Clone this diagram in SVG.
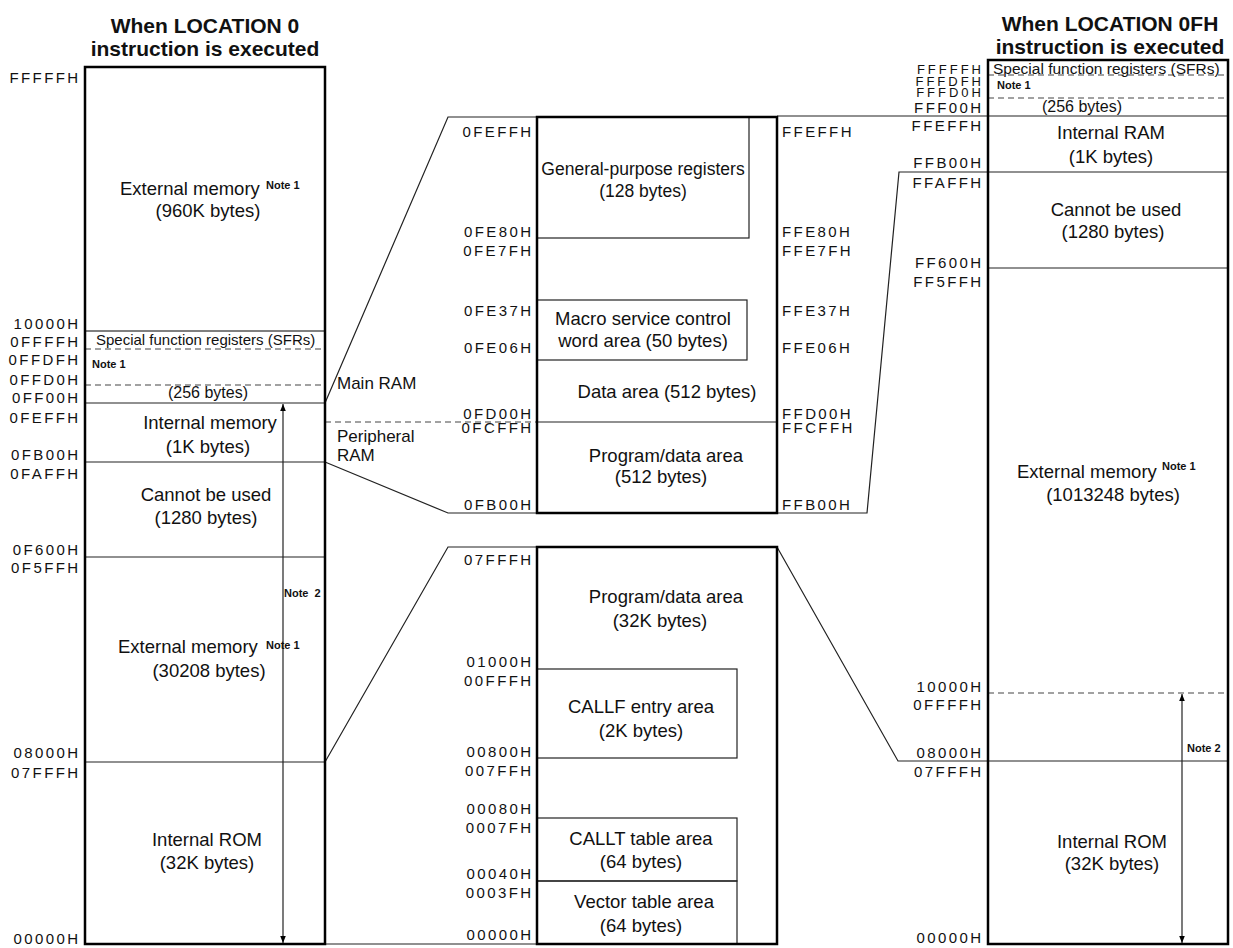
<svg xmlns="http://www.w3.org/2000/svg" width="1233" height="948" viewBox="0 0 1233 948">
<style>
text{font-family:"Liberation Sans",Arial,sans-serif;fill:#111}
.t{font-size:21px;font-weight:bold;text-anchor:middle}
.a{font-size:15px;letter-spacing:2.4px}
.ae{font-size:15px;letter-spacing:2.4px;text-anchor:end}
.at{font-size:13px;letter-spacing:3px;text-anchor:end}
.b{font-size:18.5px;text-anchor:middle}
.bs{font-size:18.5px}
.n{font-size:11px;font-weight:bold}
.s{font-size:15px}
.box{fill:none;stroke:#000;stroke-width:2.5}
.ib{fill:none;stroke:#222;stroke-width:1.2}
.ln{stroke:#222;stroke-width:1.2;fill:none}
.gl{stroke:#555;stroke-width:1.5;fill:none}
.ds{stroke:#444;stroke-width:1.2;stroke-dasharray:6 4;fill:none}
</style>
<defs>
<marker id="ah" viewBox="0 0 10 10" refX="10" refY="5" markerWidth="7" markerHeight="9" markerUnits="userSpaceOnUse" orient="auto-start-reverse">
<path d="M0,1 L10,5 L0,9 z" fill="#000"/>
</marker>
</defs>

<g id="titles">
<text class="t" x="205" y="33">When LOCATION 0</text>
<text class="t" x="205" y="56">instruction is executed</text>
<text class="t" x="1110" y="31">When LOCATION 0FH</text>
<text class="t" x="1110" y="54">instruction is executed</text>
</g>

<g id="connectors">
<polyline class="ln" points="325,403 448,117 537,117"/>
<polyline class="ln" points="325,462 448,513 537,513"/>
<line class="ds" x1="325" y1="422" x2="537" y2="422"/>
<line class="ln" x1="777" y1="116" x2="988" y2="116"/>
<polyline class="ln" points="777,513 867,513 899,172 988,172"/>
<polyline class="ln" points="325,762 448,547 537,547"/>
<polyline class="ln" points="777,547 898,761 988,761"/>
<line class="ln" x1="325" y1="944" x2="537" y2="944"/>
<text class="bs" x="337" y="389" style="font-size:17px">Main RAM</text>
<text class="bs" x="337" y="442" style="font-size:17px">Peripheral</text>
<text class="bs" x="337" y="461" style="font-size:17px">RAM</text>
</g>

<g id="left-map">
<line class="gl" x1="85" y1="331" x2="325" y2="331"/>
<line class="ds" x1="85" y1="349" x2="325" y2="349"/>
<line class="ds" x1="85" y1="385" x2="325" y2="385"/>
<line class="ln" x1="85" y1="403" x2="325" y2="403"/>
<line class="ln" x1="85" y1="462" x2="325" y2="462"/>
<line class="ln" x1="85" y1="557" x2="325" y2="557"/>
<line class="ln" x1="85" y1="762" x2="325" y2="762"/>
<line class="ln" x1="283" y1="404" x2="283" y2="943" marker-start="url(#ah)" marker-end="url(#ah)"/>
<rect class="box" x="85" y="67" width="240" height="877"/>
<text class="bs" x="120" y="195">External memory</text>
<text class="n" x="266" y="189">Note 1</text>
<text class="b" x="208" y="217">(960K bytes)</text>
<text class="s" x="96" y="345">Special function registers (SFRs)</text>
<text class="n" x="92" y="368">Note 1</text>
<text class="b" x="208" y="398" style="font-size:16px">(256 bytes)</text>
<text class="b" x="210" y="429">Internal memory</text>
<text class="b" x="208" y="453">(1K bytes)</text>
<text class="b" x="206" y="501">Cannot be used</text>
<text class="b" x="206" y="524">(1280 bytes)</text>
<text class="n" x="284" y="597" style="word-spacing:3px">Note 2</text>
<text class="bs" x="118" y="653">External memory</text>
<text class="n" x="266" y="649">Note 1</text>
<text class="b" x="209" y="677">(30208 bytes)</text>
<text class="b" x="207" y="846">Internal ROM</text>
<text class="b" x="207" y="869">(32K bytes)</text>
<text class="ae" x="80.5" y="83">FFFFFH</text>
<text class="ae" x="80.5" y="329">10000H</text>
<text class="ae" x="80.5" y="347">0FFFFH</text>
<text class="ae" x="80.5" y="365">0FFDFH</text>
<text class="ae" x="80.5" y="385">0FFD0H</text>
<text class="ae" x="80.5" y="403">0FF00H</text>
<text class="ae" x="80.5" y="423">0FEFFH</text>
<text class="ae" x="80.5" y="460">0FB00H</text>
<text class="ae" x="80.5" y="479">0FAFFH</text>
<text class="ae" x="80.5" y="555">0F600H</text>
<text class="ae" x="80.5" y="573">0F5FFH</text>
<text class="ae" x="80.5" y="758">08000H</text>
<text class="ae" x="80.5" y="778">07FFFH</text>
<text class="ae" x="80.5" y="944">00000H</text>
</g>

<g id="ram-detail">
<rect class="ib" x="537" y="117" width="212" height="121"/>
<rect class="ib" x="537" y="300" width="210" height="60"/>
<line class="ln" x1="537" y1="422" x2="777" y2="422"/>
<rect class="box" x="537" y="117" width="240" height="396"/>
<text class="b" x="643" y="175" style="font-size:17.5px">General-purpose registers</text>
<text class="b" x="643" y="197" style="font-size:17.5px">(128 bytes)</text>
<text class="b" x="643" y="325">Macro service control</text>
<text class="b" x="643" y="347">word area (50 bytes)</text>
<text class="b" x="667" y="398">Data area (512 bytes)</text>
<text class="b" x="666" y="462">Program/data area</text>
<text class="b" x="661" y="483">(512 bytes)</text>
<text class="ae" x="533.5" y="137">0FEFFH</text>
<text class="ae" x="533.5" y="237">0FE80H</text>
<text class="ae" x="533.5" y="256">0FE7FH</text>
<text class="ae" x="533.5" y="316">0FE37H</text>
<text class="ae" x="533.5" y="353">0FE06H</text>
<text class="ae" x="533.5" y="419">0FD00H</text>
<text class="ae" x="533.5" y="433">0FCFFH</text>
<text class="ae" x="533.5" y="510">0FB00H</text>
<text class="a" x="782" y="137">FFEFFH</text>
<text class="a" x="782" y="237">FFE80H</text>
<text class="a" x="782" y="256">FFE7FH</text>
<text class="a" x="782" y="316">FFE37H</text>
<text class="a" x="782" y="353">FFE06H</text>
<text class="a" x="782" y="419">FFD00H</text>
<text class="a" x="782" y="433">FFCFFH</text>
<text class="a" x="782" y="510">FFB00H</text>
</g>

<g id="rom-detail">
<rect class="ib" x="537" y="669" width="200" height="89"/>
<rect class="ib" x="537" y="818" width="200" height="63"/>
<rect class="ib" x="537" y="881" width="200" height="63"/>
<rect class="box" x="537" y="547" width="240" height="397"/>
<text class="b" x="666" y="603">Program/data area</text>
<text class="b" x="660" y="627">(32K bytes)</text>
<text class="b" x="641" y="713">CALLF entry area</text>
<text class="b" x="641" y="737">(2K bytes)</text>
<text class="b" x="641" y="845">CALLT table area</text>
<text class="b" x="641" y="868">(64 bytes)</text>
<text class="b" x="644" y="908">Vector table area</text>
<text class="b" x="641" y="932">(64 bytes)</text>
<text class="ae" x="533.5" y="565">07FFFH</text>
<text class="ae" x="533.5" y="667">01000H</text>
<text class="ae" x="533.5" y="686">00FFFH</text>
<text class="ae" x="533.5" y="757">00800H</text>
<text class="ae" x="533.5" y="776">007FFH</text>
<text class="ae" x="533.5" y="814">00080H</text>
<text class="ae" x="533.5" y="833">0007FH</text>
<text class="ae" x="533.5" y="879">00040H</text>
<text class="ae" x="533.5" y="898">0003FH</text>
<text class="ae" x="533.5" y="940">00000H</text>
</g>

<g id="right-map">
<line class="ds" x1="988" y1="75" x2="1228" y2="75"/>
<line class="ds" x1="988" y1="98" x2="1228" y2="98"/>
<line class="ln" x1="988" y1="116" x2="1228" y2="116"/>
<line class="ln" x1="988" y1="172" x2="1228" y2="172"/>
<line class="ln" x1="988" y1="268" x2="1228" y2="268"/>
<line class="ds" x1="988" y1="693" x2="1228" y2="693"/>
<line class="ln" x1="988" y1="761" x2="1228" y2="761"/>
<line class="ln" x1="1182" y1="694" x2="1182" y2="943" marker-start="url(#ah)" marker-end="url(#ah)"/>
<rect class="box" x="988" y="60" width="240" height="884"/>
<text class="s" x="993" y="74" style="font-size:15.5px">Special function registers (SFRs)</text>
<text class="n" x="997" y="89">Note 1</text>
<text class="b" x="1082" y="112" style="font-size:16px">(256 bytes)</text>
<text class="b" x="1111" y="139">Internal RAM</text>
<text class="b" x="1111" y="163">(1K bytes)</text>
<text class="b" x="1116" y="216">Cannot be used</text>
<text class="b" x="1113" y="238">(1280 bytes)</text>
<text class="bs" x="1017" y="478">External memory</text>
<text class="n" x="1162" y="470">Note 1</text>
<text class="b" x="1113" y="501">(1013248 bytes)</text>
<text class="n" x="1187" y="752">Note 2</text>
<text class="b" x="1112" y="848">Internal ROM</text>
<text class="b" x="1112" y="870">(32K bytes)</text>
<text class="at" x="984" y="74">FFFFFH</text>
<text class="at" x="984" y="85.5">FFFDFH</text>
<text class="at" x="984" y="97">FFFD0H</text>
<text class="ae" x="983.5" y="113">FFF00H</text>
<text class="ae" x="983.5" y="131">FFEFFH</text>
<text class="ae" x="983.5" y="168">FFB00H</text>
<text class="ae" x="983.5" y="188">FFAFFH</text>
<text class="ae" x="983.5" y="268">FF600H</text>
<text class="ae" x="983.5" y="287">FF5FFH</text>
<text class="ae" x="983.5" y="692">10000H</text>
<text class="ae" x="983.5" y="710">0FFFFH</text>
<text class="ae" x="983.5" y="758">08000H</text>
<text class="ae" x="983.5" y="777">07FFFH</text>
<text class="ae" x="983.5" y="943">00000H</text>
</g>
</svg>
